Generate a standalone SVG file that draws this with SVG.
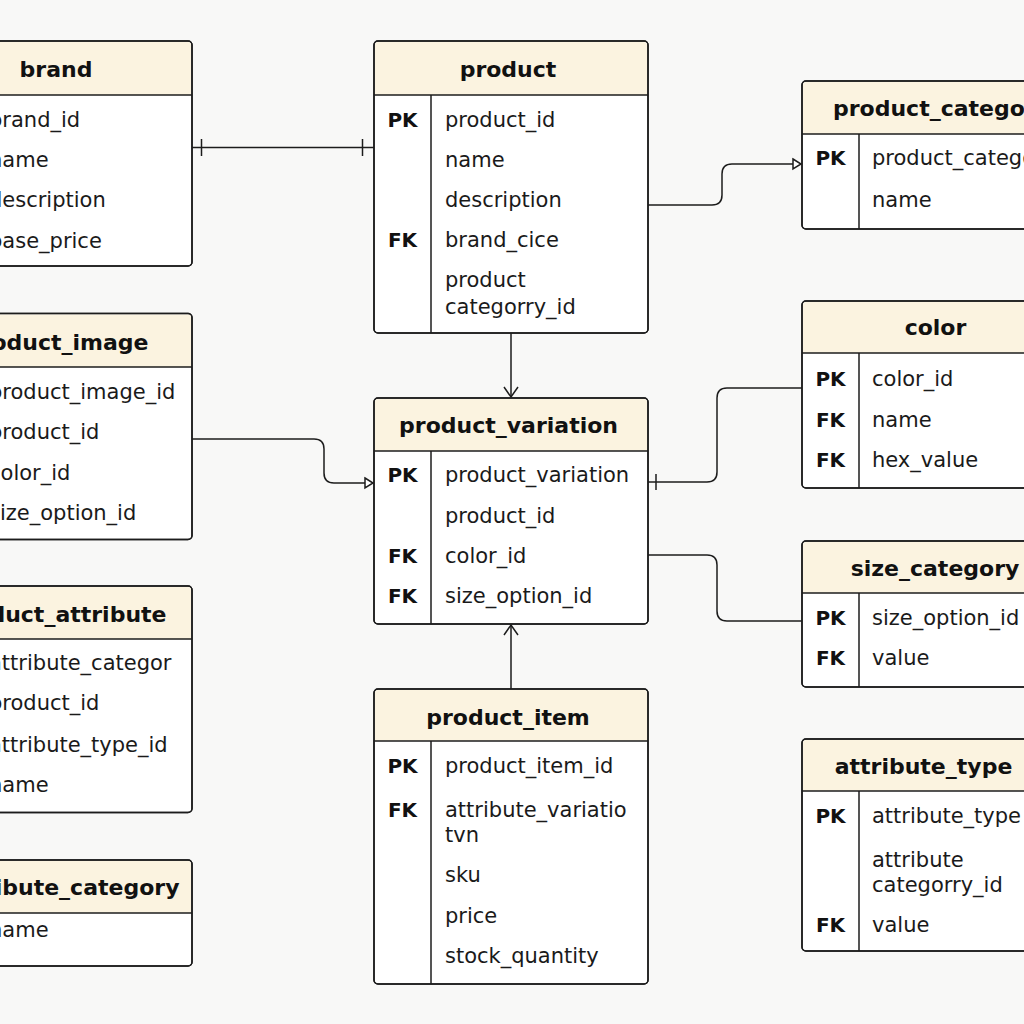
<svg xmlns="http://www.w3.org/2000/svg" width="1024" height="1024" viewBox="0 0 1024 1024">
<style>
.bg{fill:#f8f8f7}
.body{fill:#ffffff;stroke:#1c1c1c;stroke-width:1.5}
.out{fill:none;stroke:#1c1c1c;stroke-width:1.5}
.hdr{fill:#fbf3e0}
.ln{stroke:#1c1c1c;stroke-width:1.5}
.t{font-family:"DejaVu Sans",sans-serif;font-weight:bold;font-size:22px;fill:#111}
.f{font-family:"DejaVu Sans",sans-serif;font-size:21px;fill:#1a1a1a}
.k{font-family:"DejaVu Sans",sans-serif;font-weight:bold;font-size:20px;fill:#111;text-anchor:middle}
.c{fill:none;stroke:#1c1c1c;stroke-width:1.5}
</style>
<defs>
<marker id="tri" markerUnits="userSpaceOnUse" markerWidth="12" markerHeight="14" refX="9" refY="6" orient="auto" viewBox="0 0 12 12">
<path d="M1,1 L9,6 L1,11 Z" fill="#fff" stroke="#1c1c1c" stroke-width="1.5"/>
</marker>
<marker id="chev" markerUnits="userSpaceOnUse" markerWidth="18" markerHeight="18" refX="11" refY="9" orient="auto" viewBox="0 0 18 18">
<path d="M1,2 L11,9 L1,16" fill="none" stroke="#1c1c1c" stroke-width="1.5"/>
</marker>
</defs>
<rect class="bg" x="0" y="0" width="1024" height="1024"/>

<g id="connectors">
<path class="c" d="M192,147.5 H374"/>
<path class="c" d="M201.5,139 V156 M362.5,139 V156"/>
<path class="c" d="M648,205 H712 Q722,205 722,195 V174 Q722,164 732,164 H801" marker-end="url(#tri)"/>
<path class="c" d="M511,333 V397" marker-end="url(#chev)"/>
<path class="c" d="M192,439 H314 Q324,439 324,449 V473 Q324,483 334,483 H373" marker-end="url(#tri)"/>
<path class="c" d="M802,388 H727 Q717,388 717,398 V472 Q717,482 707,482 H648"/>
<path class="c" d="M656,474 V490"/>
<path class="c" d="M648,555 H707 Q717,555 717,565 V611 Q717,621 727,621 H802"/>
<path class="c" d="M511,689 V625" marker-end="url(#chev)"/>
</g>

<g id="brand">
<rect class="body" x="-82" y="41" width="274" height="225" rx="4"/>
<path class="hdr" d="M-81,95 V45 Q-81,42 -78,42 H188 Q191,42 191,45 V95 Z"/>
<line class="ln" x1="-82" y1="95" x2="192" y2="95"/>
<line class="ln" x1="-25" y1="95" x2="-25" y2="266"/>
<rect class="out" x="-82" y="41" width="274" height="225" rx="4"/>
<text class="t" x="56" y="77" text-anchor="middle">brand</text>
<text class="f" x="-11" y="126.5">brand_id</text>
<text class="f" x="-11" y="167">name</text>
<text class="f" x="-11" y="207">description</text>
<text class="f" x="-11" y="247.5">base_price</text>
</g>

<g id="product_image">
<rect class="body" x="-82" y="313.5" width="274" height="226" rx="4"/>
<path class="hdr" d="M-81,367 V317.5 Q-81,314.5 -78,314.5 H188 Q191,314.5 191,317.5 V367 Z"/>
<line class="ln" x1="-82" y1="367" x2="192" y2="367"/>
<line class="ln" x1="-25" y1="367" x2="-25" y2="539.5"/>
<rect class="out" x="-82" y="313.5" width="274" height="226" rx="4"/>
<text class="t" x="148.5" y="349.5" text-anchor="end">product_image</text>
<text class="f" x="-11" y="399">product_image_id</text>
<text class="f" x="-11" y="438.5">product_id</text>
<text class="f" x="-11" y="480">color_id</text>
<text class="f" x="-11" y="520">size_option_id</text>
</g>

<g id="product_attribute">
<rect class="body" x="-82" y="586" width="274" height="226.5" rx="4"/>
<path class="hdr" d="M-81,639 V590 Q-81,587 -78,587 H188 Q191,587 191,590 V639 Z"/>
<line class="ln" x1="-82" y1="639" x2="192" y2="639"/>
<line class="ln" x1="-25" y1="639" x2="-25" y2="812.5"/>
<rect class="out" x="-82" y="586" width="274" height="226.5" rx="4"/>
<text class="t" x="166.5" y="621.5" text-anchor="end">product_attribute</text>
<text class="f" x="-11" y="670">attribute_categor</text>
<text class="f" x="-11" y="710">product_id</text>
<text class="f" x="-11" y="751.5">attribute_type_id</text>
<text class="f" x="-11" y="791.5">name</text>
</g>

<g id="attribute_category">
<rect class="body" x="-82" y="860" width="274" height="106" rx="4"/>
<path class="hdr" d="M-81,913 V864 Q-81,861 -78,861 H188 Q191,861 191,864 V913 Z"/>
<line class="ln" x1="-82" y1="913" x2="192" y2="913"/>
<line class="ln" x1="-25" y1="913" x2="-25" y2="966"/>
<rect class="out" x="-82" y="860" width="274" height="106" rx="4"/>
<text class="t" x="179.5" y="895" text-anchor="end">attribute_category</text>
<text class="f" x="-11" y="936.5">name</text>
</g>

<g id="product">
<rect class="body" x="374" y="41" width="274" height="292" rx="4"/>
<path class="hdr" d="M375,95 V45 Q375,42 378,42 H644 Q647,42 647,45 V95 Z"/>
<line class="ln" x1="374" y1="95" x2="648" y2="95"/>
<line class="ln" x1="431" y1="95" x2="431" y2="333"/>
<rect class="out" x="374" y="41" width="274" height="292" rx="4"/>
<text class="t" x="508" y="77" text-anchor="middle">product</text>
<text class="k" x="402.5" y="126.5">PK</text>
<text class="f" x="445" y="126.5">product_id</text>
<text class="f" x="445" y="166.5">name</text>
<text class="f" x="445" y="206.5">description</text>
<text class="k" x="402.5" y="247">FK</text>
<text class="f" x="445" y="247">brand_cice</text>
<text class="f" x="445" y="286.5">product</text>
<text class="f" x="445" y="313.5">categorry_id</text>
</g>

<g id="product_variation">
<rect class="body" x="374" y="398" width="274" height="226" rx="4"/>
<path class="hdr" d="M375,451 V402 Q375,399 378,399 H644 Q647,399 647,402 V451 Z"/>
<line class="ln" x1="374" y1="451" x2="648" y2="451"/>
<line class="ln" x1="431" y1="451" x2="431" y2="624"/>
<rect class="out" x="374" y="398" width="274" height="226" rx="4"/>
<text class="t" x="508.5" y="433" text-anchor="middle">product_variation</text>
<text class="k" x="402.5" y="481.5">PK</text>
<text class="f" x="445" y="481.5">product_variation</text>
<text class="f" x="445" y="522.5">product_id</text>
<text class="k" x="402.5" y="562.5">FK</text>
<text class="f" x="445" y="562.5">color_id</text>
<text class="k" x="402.5" y="602.5">FK</text>
<text class="f" x="445" y="602.5">size_option_id</text>
</g>

<g id="product_item">
<rect class="body" x="374" y="689" width="274" height="295" rx="4"/>
<path class="hdr" d="M375,741 V693 Q375,690 378,690 H644 Q647,690 647,693 V741 Z"/>
<line class="ln" x1="374" y1="741" x2="648" y2="741"/>
<line class="ln" x1="431" y1="741" x2="431" y2="984"/>
<rect class="out" x="374" y="689" width="274" height="295" rx="4"/>
<text class="t" x="508" y="725" text-anchor="middle">product_item</text>
<text class="k" x="402.5" y="773">PK</text>
<text class="f" x="445" y="773">product_item_id</text>
<text class="k" x="402.5" y="816.5">FK</text>
<text class="f" x="445" y="816.5">attribute_variatio</text>
<text class="f" x="445" y="841.5">tvn</text>
<text class="f" x="445" y="881.5">sku</text>
<text class="f" x="445" y="923">price</text>
<text class="f" x="445" y="963">stock_quantity</text>
</g>

<g id="product_category">
<rect class="body" x="802" y="81" width="274" height="148" rx="4"/>
<path class="hdr" d="M803,134 V85 Q803,82 806,82 H1072 Q1075,82 1075,85 V134 Z"/>
<line class="ln" x1="802" y1="134" x2="1076" y2="134"/>
<line class="ln" x1="859" y1="134" x2="859" y2="229"/>
<rect class="out" x="802" y="81" width="274" height="148" rx="4"/>
<text class="t" x="833" y="116">product_category</text>
<text class="k" x="830.5" y="165">PK</text>
<text class="f" x="872" y="165">product_category_id</text>
<text class="f" x="872" y="206.5">name</text>
</g>

<g id="color">
<rect class="body" x="802" y="301" width="274" height="187" rx="4"/>
<path class="hdr" d="M803,353 V305 Q803,302 806,302 H1072 Q1075,302 1075,305 V353 Z"/>
<line class="ln" x1="802" y1="353" x2="1076" y2="353"/>
<line class="ln" x1="859" y1="353" x2="859" y2="488"/>
<rect class="out" x="802" y="301" width="274" height="187" rx="4"/>
<text class="t" x="935.5" y="335" text-anchor="middle">color</text>
<text class="k" x="830.5" y="386">PK</text>
<text class="f" x="872" y="386">color_id</text>
<text class="k" x="830.5" y="426.5">FK</text>
<text class="f" x="872" y="426.5">name</text>
<text class="k" x="830.5" y="466.5">FK</text>
<text class="f" x="872" y="466.5">hex_value</text>
</g>

<g id="size_category">
<rect class="body" x="802" y="541" width="274" height="146" rx="4"/>
<path class="hdr" d="M803,593 V545 Q803,542 806,542 H1072 Q1075,542 1075,545 V593 Z"/>
<line class="ln" x1="802" y1="593" x2="1076" y2="593"/>
<line class="ln" x1="859" y1="593" x2="859" y2="687"/>
<rect class="out" x="802" y="541" width="274" height="146" rx="4"/>
<text class="t" x="935" y="576" text-anchor="middle">size_category</text>
<text class="k" x="830.5" y="625">PK</text>
<text class="f" x="872" y="625">size_option_id</text>
<text class="k" x="830.5" y="665">FK</text>
<text class="f" x="872" y="665">value</text>
</g>

<g id="attribute_type">
<rect class="body" x="802" y="739" width="274" height="212" rx="4"/>
<path class="hdr" d="M803,791 V743 Q803,740 806,740 H1072 Q1075,740 1075,743 V791 Z"/>
<line class="ln" x1="802" y1="791" x2="1076" y2="791"/>
<line class="ln" x1="859" y1="791" x2="859" y2="951"/>
<rect class="out" x="802" y="739" width="274" height="212" rx="4"/>
<text class="t" x="923.5" y="774" text-anchor="middle">attribute_type</text>
<text class="k" x="830.5" y="823">PK</text>
<text class="f" x="872" y="823">attribute_type</text>
<text class="f" x="872" y="866.5">attribute</text>
<text class="f" x="872" y="891.5">categorry_id</text>
<text class="k" x="830.5" y="931.5">FK</text>
<text class="f" x="872" y="931.5">value</text>
</g>
</svg>
